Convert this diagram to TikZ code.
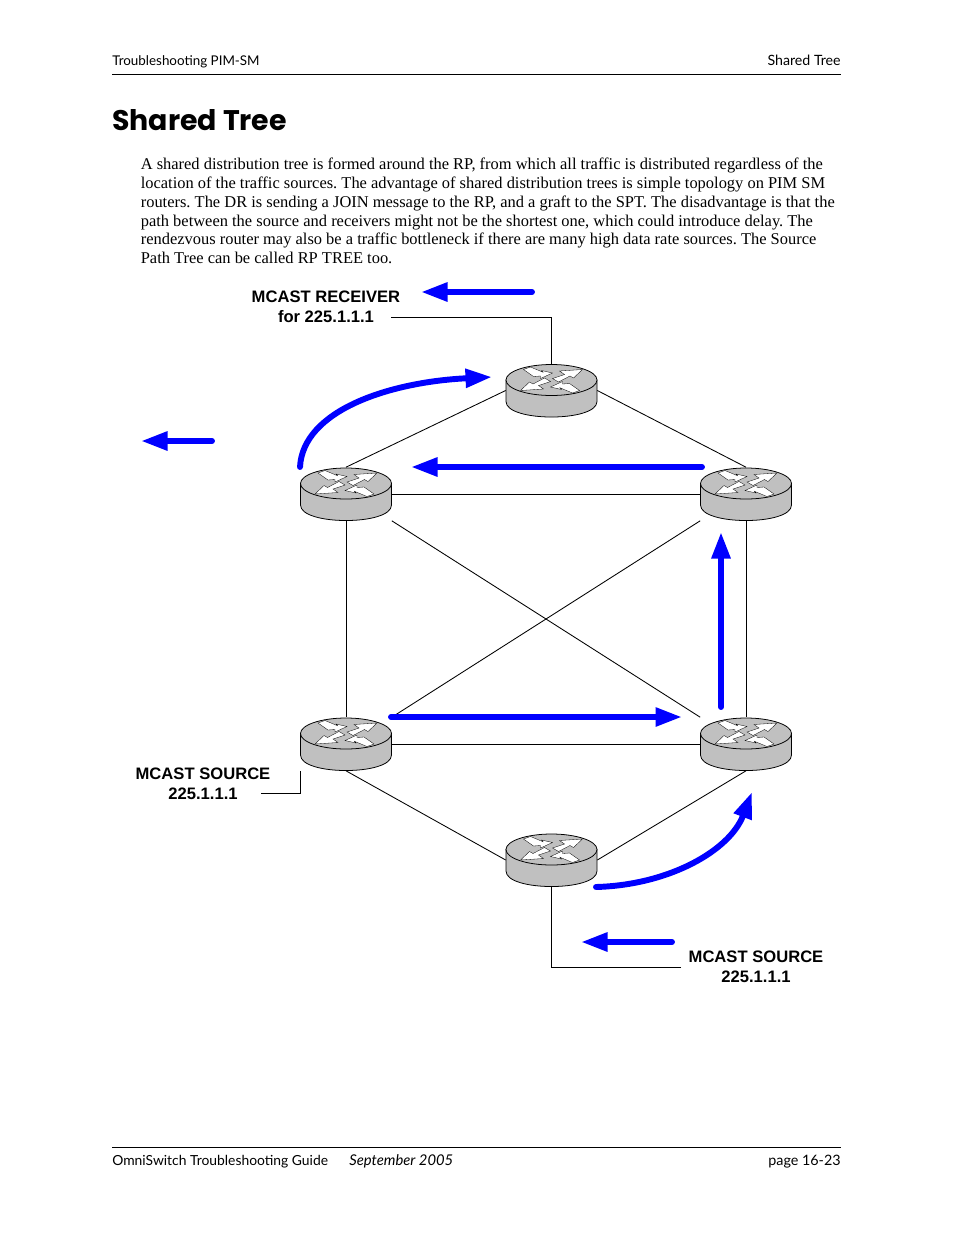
\documentclass[tikz,border=0pt]{standalone}
\usepackage{fontspec}
\setmainfont{Liberation Serif}
\newfontfamily\labelfont{Liberation Sans}
\newfontfamily\headfont{Lato}
\newfontfamily\titlefont{Poppins}
\usetikzlibrary{arrows.meta}
\definecolor{routergray}{RGB}{192,192,192}
\tikzset{
	routerbox/.style={minimum width=58.4pt, minimum height=34pt, inner sep=0pt},
	link/.style={draw, line width=.55pt},
	flow/.style={draw=blue, line width=3.8pt, line cap=round, -{Triangle[length=17pt, width=11.5pt, fill=blue]}},
	mcast/.style={font=\labelfont\bfseries\fontsize{10.65}{12.8}\selectfont, align=center, inner sep=0pt},
	running/.style={font=\headfont\fontsize{#1}{11}\selectfont, inner sep=0pt}
}
\newcommand{\router}[3]{
	\node[routerbox] (#1) at (#2,#3) {};
	\begin{scope}[shift={(#2,#3)}]
		\filldraw[fill=routergray, line width=.5pt] (-45.5,-10.5) -- (-45.5,11) .. controls (-45.5,31.7) and (45.5,31.7) .. (45.5,11) -- (45.5,-10.5) -- cycle;
		\filldraw[fill=routergray, line width=.5pt] (0,-10.5) ellipse [x radius=45.5, y radius=15.5];
		\foreach \turn in {0,180} {
			\filldraw[shift={(0,-10.5)}, rotate=\turn, fill=white, line width=.2pt]
				(1,-1.5) -- (13,-5.5) -- (8,-9) -- (31,-10.5) -- (22,-2) -- (18.5,-4) -- (7,2) -- cycle;
			\filldraw[shift={(0,-10.5)}, rotate=\turn, fill=white, line width=.2pt]
				(-28,-10.5) -- (-21,-13) -- (-8.5,-7.8) -- (-10,-9.5) -- (1,-7) -- (-11,-1.5) -- (-11,-4) -- (-18,-3.5) -- cycle;
		}
	\end{scope}
}

\begin{document}
\frenchspacing
\begin{tikzpicture}[x=.6415pt, y=-.6415pt]
	\useasboundingbox (0,0) rectangle (954,1235);
	% page furniture
	\coordinate (headl) at (112,74);
	\coordinate (headr) at (841,74);
	\coordinate (footl) at (112,1147);
	\coordinate (footr) at (841,1147);
	\draw[line width=.55pt] (headl) -- (headr);
	\draw[line width=.55pt] (footl) -- (footr);
	\node[running=8.6, anchor=base west] (headleft) at (112,65) {Troubleshooting PIM-SM};
	\node[running=9.1, anchor=base east] (headright) at (841,65) {Shared Tree};
	\node[running=8.9, anchor=base west] (footleft) at (112,1165) {OmniSwitch Troubleshooting Guide};
	\node[running=9.5, anchor=base west] (footdate) at (349,1165) {\itshape September 2005};
	\node[running=9.2, anchor=base east] (footright) at (841,1165) {page 16-23};
	\node[font=\titlefont\bfseries\fontsize{18.2}{22}\selectfont, anchor=base west, inner sep=0pt] (title) at (112,130) {Shared Tree};
	\node[font=\fontsize{10.55}{12}\selectfont, anchor=north west, align=left, inner sep=0pt] (para) at (140.5,158) {A shared distribution tree is formed around the RP, from which all traffic is distributed regardless of the\\
		location of the traffic sources. The advantage of shared distribution trees is simple topology on PIM SM\\
		routers. The DR is sending a JOIN message to the RP, and a graft to the SPT. The disadvantage is that the\\
		path between the source and receivers might not be the shortest one, which could introduce delay. The\\
		rendezvous router may also be a traffic bottleneck if there are many high data rate sources. The Source\\
		Path Tree can be called RP TREE too.};
	% links first, routers on top
	\router{rtop}{551.5}{390.5}
	\router{rleft}{346}{494}
	\router{rright}{746}{494}
	\router{rlowleft}{346}{744}
	\router{rlowright}{746}{744}
	\router{rbottom}{551.5}{860}
	\draw[link] (rtop.west) -- (rleft.north);
	\draw[link] (rtop.east) -- (rright.north);
	\draw[link] (rleft.east) -- (rright.west);
	\draw[link] (rlowleft.east) -- (rlowright.west);
	\draw[link] (rleft.south) -- (rlowleft.north);
	\draw[link] (rright.south) -- (rlowright.north);
	\draw[link] (rleft.south east) -- (rlowright.north west);
	\draw[link] (rright.south west) -- (rlowleft.north east);
	\draw[link] (rlowleft.south) -- (rbottom.west);
	\draw[link] (rbottom.east) -- (rlowright.south);
	% callouts
	\node[mcast] (receiver) at (326,306.5) {MCAST RECEIVER\\for 225.1.1.1};
	\node[mcast] (sourceleft) at (203,783.5) {MCAST SOURCE\\225.1.1.1};
	\node[mcast] (sourceright) at (756,966.5) {MCAST SOURCE\\225.1.1.1};
	\coordinate (recvend) at (391,317);
	\coordinate (srcleftend) at (261,793);
	\coordinate (srcrightend) at (681,967);
	\draw[link] (recvend) -| (rtop.north);
	\draw[link] (srcleftend) -| (rlowleft.south west);
	\draw[link] (srcrightend) -| (rbottom.south);
	% blue arrows
	\coordinate (arrA) at (532,292);
	\coordinate (arrAtip) at (421,292);
	\coordinate (arrB) at (212,441);
	\coordinate (arrBtip) at (141,441);
	\coordinate (arrC) at (702,467);
	\coordinate (arrCtip) at (411,467);
	\coordinate (arrD) at (721,707);
	\coordinate (arrDtip) at (721,532);
	\coordinate (arrE) at (391,717);
	\coordinate (arrEtip) at (682,717);
	\coordinate (arrF) at (672,942);
	\coordinate (arrFtip) at (581,942);
	\coordinate (arrG) at (300,467);
	\coordinate (arrGtip) at (492,377);
	\coordinate (arrH) at (596,887);
	\coordinate (arrHtip) at (752,792);
	\draw[flow] (arrA) -- (arrAtip);
	\draw[flow] (arrB) -- (arrBtip);
	\draw[flow] (arrC) -- (arrCtip);
	\draw[flow] (arrD) -- (arrDtip);
	\draw[flow] (arrE) -- (arrEtip);
	\draw[flow] (arrF) -- (arrFtip);
	\draw[flow] (arrG) .. controls (303,410) and (390,382) .. (arrGtip);
	\draw[flow] (arrH) .. controls (670,885) and (730,850) .. (arrHtip);
\end{tikzpicture}
\end{document}
